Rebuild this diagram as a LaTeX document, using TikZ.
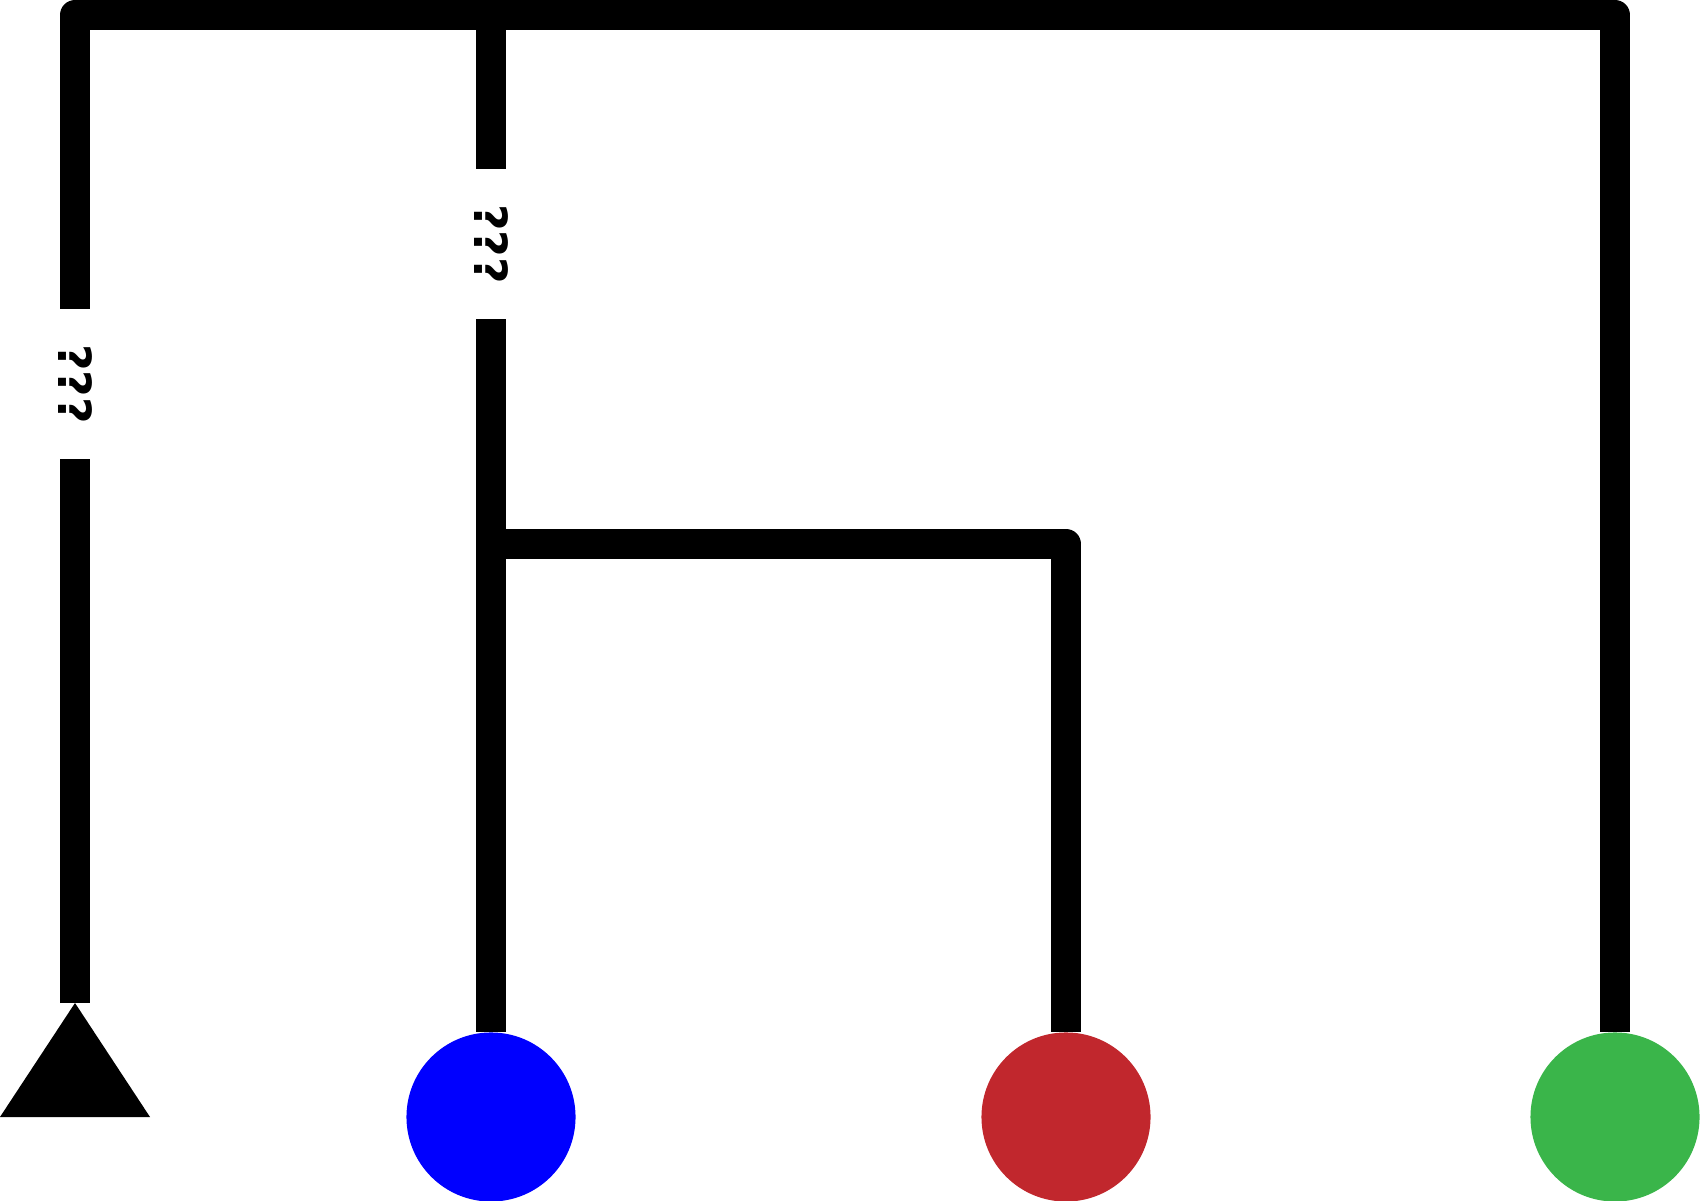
\documentclass[tikz,border=0pt]{standalone}
\usepackage{fontspec}
\setmainfont{DejaVu Sans}
\usepackage{xcolor}
\definecolor{cLine}{HTML}{000000}
\definecolor{cBlue}{HTML}{0000FF}
\definecolor{cRed}{HTML}{C1272D}
\definecolor{cGreen}{HTML}{3AB54A}
\usepackage{tikz}
\usetikzlibrary{backgrounds}
\tikzset{
  tree-edge/.style={draw=cLine,line width=0.3cm,line join=round},
  leaf-dot/.style={circle,minimum size=1.69cm,inner sep=0pt},
  gap-label/.style={fill=white,rotate=-90,minimum width=1.49cm,
    inner sep=0.02cm,font=\fontsize{13}{13}\selectfont\bfseries},
}
\begin{document}
\begin{tikzpicture}[x=0.01cm,y=-0.01cm]
  \useasboundingbox (0,0) rectangle (1700,1201);
  % leaves
  \coordinate (tip) at (75,1003);
  \fill[cLine] (tip) -- (150,1117) -- (0,1117) -- cycle;
  \node[leaf-dot,fill=cBlue]  (blu) at (491,1117) {};
  \node[leaf-dot,fill=cRed]   (red) at (1066,1117) {};
  \node[leaf-dot,fill=cGreen] (grn) at (1615,1117) {};
  % inner points
  \coordinate (top) at (491,15);
  \coordinate (mid) at (491,544);
  \begin{scope}[on background layer]
    \draw[tree-edge] (tip) |- (top) -| (grn);
    \draw[tree-edge] (top) -- (blu);
    \draw[tree-edge] (mid) -| (red);
  \end{scope}
  % labels
  \node[gap-label] (lab1) at (75,384) {???};
  \node[gap-label] (lab2) at (491,244) {???};
\end{tikzpicture}
\end{document}
